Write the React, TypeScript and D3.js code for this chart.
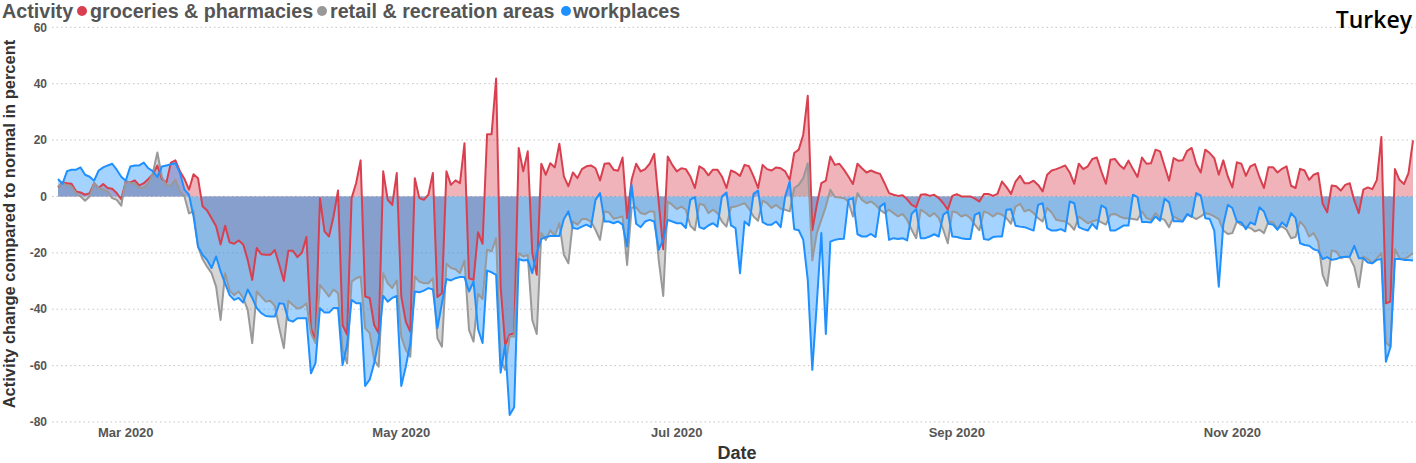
import * as d3 from "d3";

// daily values, first day 2020-02-15 (one line per month)
const startDay = "2020-02-15";

const groceries = [
  3.2, 5, 4.7, 4.5, 1.8, 1.4, 0.6, 1.2, 4.7, 3, 4.4, 3, 2.7, 1.2, -1,
  5.3, 5, 5.7, 3.9, 4.7, 6.2, 7.9, 11, 6.2, 5, 12, 12.8, 8.9, 6.2, 2.4, 7.9, 6.5, -3.5, -5, -7.7, -10.6, -17, -10.4, -16.3, -16.8, -15.6, -17, -22.5, -29.6, -18.3, -20.5,
  -20.7, -20.7, -19, -24.3, -30, -19.3, -19.3, -21.5, -20, -14.4, -46.7, -51, -0.6, -12.4, -14.2, -7.1, 2.1, -45.6, -49, -0.6, 4.7, 12.8, -35.5, -36, -45.6, -48.5, 8.9, -1.2, -3, 8.3,
  -35.5, -44.4, -48, 6.5, -0.6, -1.2, 0.6, 8.3, -35.7, -34.3, 8.9, 4.1, 5.7, 4.7, 18.9, -29, -29.6, -12.7, -16.8, 22.1, 22.1, 41.8, -32, -52.7, -49, -48.5, 17.2, 8.9, 16, -20, -27.8,
  11.6, 7.7, 11.8, 10.3, 18.7, 7.1, 3.6, 8.5, 6.5, 9.7, 10.7, 11, 10, 5.7, 11.6, 11.8, 9.5, 9.1, 13.8, -7.7, 5.9, 11.6, 8.9, 9.7, 11.6, 15.1, -2, -18.7, 14.2, 11.2,
  8.9, 10, 9.7, 7.1, 3, 10.7, 9.7, 7.5, 9.5, 9.5, 7.1, 3, 9.2, 8.5, 7.3, 11.2, 10.7, 7.1, 3, 11.2, 9.7, 9.2, 10.3, 10, 8.9, 5.9, 15.4, 16.6, 21.9, 35.7, -12,
  -3, 4.7, 5.6, 14.2, 11.2, 11.6, 9.5, 7.1, 4.4, 11.6, 10, 8.5, 9.2, 8.5, 8, 4.7, 1.2, 0.6, 0.2, 0.4, -1, -3, -3.8, 0.6, 0.8, 0.2, 0.6, -0.6, -2.4, -4.7, 0.2,
  0.8, 0, 0, 0, -0.8, -1.8, 0.9, 0.9, 0.2, 0.9, 5.3, 3.3, 0.9, 5.3, 7.3, 4.7, 4.7, 5.6, 4.1, 1.8, 7.7, 9.2, 9.7, 10.3, 11, 8.5, 4.5, 11.6, 9.7, 10.7,
  13.3, 13.8, 8.9, 4.5, 13, 13.3, 11.2, 9.8, 12.7, 9.7, 6.9, 13.8, 11.6, 11.8, 16.6, 16, 10.7, 5.6, 13.6, 12.7, 12.8, 16.2, 17.2, 11.6, 8.5, 16.6, 15.4, 13.6, 7.7, 12.8, 7.1,
  3.2, 12.1, 11.6, 7.3, 10.7, 11.5, 6.9, 3, 10.4, 10.4, 8.5, 9.8, 10.7, 3.8, 3, 9.8, 9.2, 5.9, 7.7, 8.3, -2.6, -5.6, 3.9, 3.6, 2.1, 4.1, 4.7, -1.5, -5.9, 2.4,
  3.2, 2.6, 5.9, 21.1, -37.9, -37.3, 9.7, 5.9, 4.4, 8.3, 19.9,
];

const retail = [
  3.5, 4.7, 4, 3.5, 1.2, 0, -1.5, 0, 4.7, 3, 2.4, 1.8, -0.6, -1.2, -3.3,
  5.7, 4.7, 4.7, 3, 3, 4.7, 8.3, 15.6, 7, 4, 3.9, 6, 1.8, 0, -6, -5.3, -17.8, -22.2, -24.9, -27.2, -32, -43.8, -27.2, -33.4, -35, -33.7, -36, -40.2, -52, -33.7, -35.5,
  -37.3, -37, -38.8, -46.7, -53.8, -37, -38.5, -39.8, -39.3, -37.9, -48.5, -52, -31.4, -33.4, -35.5, -33, -34.3, -54.4, -59.2, -30.2, -29, -28.4, -46.7, -48.5, -58, -60.4, -27.2, -30.8, -32.5, -29.8,
  -49.7, -54.4, -56.8, -28.4, -30.2, -30.8, -30.8, -29, -50.3, -53.3, -23.9, -25.4, -25.8, -27.2, -22.7, -47.3, -51.5, -34.6, -36.4, -18.9, -19.5, -14.8, -58, -61.5, -49.7, -49.7, -20.1, -21.3, -20.7, -43.8, -48.8,
  -13, -15.4, -12, -14, -9.5, -20.7, -23.7, -8.9, -10, -8, -8, -8.9, -11.8, -15.4, -5.3, -5.7, -7.9, -7.5, -7.1, -24.3, -4, -3.8, -5.9, -6.3, -5.3, -5.3, -22.5, -35.3, -1.8, -3,
  -4.5, -3.6, -4.7, -10.4, -12, -2.7, -3, -5.9, -4.7, -5.9, -8.9, -10.7, -3.8, -3.6, -3, -2.4, -4.4, -7.1, -8.6, -1.5, -2.4, -4.1, -3, -4.4, -4.7, -5.3, 3, 4.1, 6.5, 11.8, -22.7,
  -13, -8.3, -3.6, 2.4, -0.2, -0.4, -0.6, -1.8, -7.1, 1.2, -1.2, -2.4, -1.8, -3, -4.7, -5.9, -4.7, -5.9, -7.1, -6.2, -8.3, -11.8, -14.8, -4.7, -5.7, -7.1, -5.9, -7.7, -11.8, -16.6, -5.3,
  -5.7, -7.1, -6.5, -7.7, -10, -12, -5.3, -5.9, -7.1, -5.9, -6.5, -7.7, -9.7, -3.6, -2.6, -5.3, -4.7, -5.9, -7.7, -8.9, -4.1, -5.7, -8.3, -8.6, -8.9, -10, -11.8, -7.1, -8.3, -9.5,
  -8.9, -8.3, -9.2, -10, -6.5, -6.2, -7.1, -7.7, -7.7, -8, -8.3, -5.3, -7.7, -8.3, -5.9, -7.7, -8.3, -10.9, -7.1, -8, -8.9, -6.5, -7.1, -8, -7.1, -5.9, -6.3, -7.1, -8, -12.1, -13.3,
  -13, -8.9, -10.1, -10.7, -11.2, -12.4, -11.8, -13, -8.9, -9.2, -11.2, -10.7, -11.8, -14.8, -14.4, -8.9, -10.7, -14.2, -13, -16, -27.8, -31.7, -19.2, -19.5, -21.9, -21.3, -21.7, -24.9, -32.2, -21.3,
  -22.2, -23.7, -22, -20.1, -51.8, -53.3, -18.7, -21.9, -22.2, -21.3, -20.1,
];

const workplaces = [
  6.2, 4.5, 9, 9.5, 9.5, 10.3, 7.7, 7, 5.6, 9.2, 10.3, 11, 11.6, 9.5, 7,
  5.6, 10.6, 11, 11, 12, 10, 9, 6.9, 10.6, 11, 11.4, 11.8, 8.3, 2.4, 0.6, -7, -17.8, -20.7, -22.5, -25.4, -21.3, -26.6, -30.8, -35, -36.7, -36, -37.6, -33, -36, -39.6, -41.4,
  -42.4, -42.6, -42.6, -37.9, -38.1, -43.8, -44.4, -43.2, -43.2, -43.2, -62.7, -59.2, -39.6, -41.2, -41.2, -39.6, -39.6, -59.8, -52.7, -36.7, -37.9, -37.9, -67.2, -65, -59.2, -51, -35.3, -37.3, -36, -35.3,
  -67.2, -60.4, -52, -33.7, -34, -33.4, -32.5, -33, -46.7, -37.9, -29.3, -29.8, -29, -28.6, -28.6, -33.7, -30.2, -47.1, -52, -26.3, -26.9, -27.8, -62.5, -52.7, -77.5, -74.8, -22.2, -22.7, -22.5, -27.2, -20,
  -15.1, -14.4, -14, -14, -14, -8, -5.3, -11.2, -11.5, -10.7, -10, -10.9, -1.2, 1.2, -8.9, -8.9, -9.5, -8.9, -10, -17.8, 4.1, -9.7, -10.9, -8.9, -8.3, -8.9, -18.9, -15.4, -8.3, -8.9,
  -9.5, -9.5, -11.2, -1.2, -0.2, -10.9, -11.5, -10.3, -9.5, -10.7, 0, 1.4, -10.3, -11.2, -27.2, -8.9, -10.3, 0.9, 2.1, -9.1, -10, -10, -8.9, -10.9, 0, 5.3, -11.6, -12, -15.4, -29.6, -61.5,
  -38, -13, -48.8, -16, -15.4, -15.1, -15, -1.2, -0.6, -13.4, -14.2, -14.2, -13.3, -14.4, -3.6, -2.4, -15.4, -14.8, -15.1, -14.8, -15.6, -6.2, -4.5, -14.8, -14.8, -14.2, -13.4, -14.2, -6.5, -5.3, -14.2,
  -14.4, -14.8, -15.1, -15.1, -6.5, -5.7, -15.1, -15.4, -14.4, -14.2, -14.2, -4.7, -4.5, -10.4, -10.7, -10.9, -11.5, -12.1, -3, -2.4, -11.2, -12.1, -12.1, -11.6, -12.4, -1.8, -2.4, -10.9, -11.6, -12.1,
  -9.7, -11.5, -3.2, -4.1, -12.1, -12.1, -11.2, -10.3, -10.3, 0.6, -0.2, -9.1, -9.1, -9.2, -7.1, -8.6, -0.8, -2.1, -8.8, -8.8, -8.9, -6.2, -7.3, 1.2, 0.4, -7.7, -8, -12.1, -32, -10, -3,
  -4.1, -8.9, -9.2, -11.6, -9.2, -10, -3.8, -5.3, -9.7, -10, -11.8, -9.2, -10.7, -5.9, -7.7, -16.6, -17.2, -17.5, -18.7, -19.2, -22.2, -21.5, -22.5, -22.2, -21.5, -21.5, -21.3, -17.5, -21.9, -21.9,
  -23.4, -23.7, -22.5, -22.2, -58.6, -53.5, -22.2, -22.2, -22.5, -22.5, -22.7,
];

const seriesNames = ["groceries & pharmacies", "retail & recreation areas", "workplaces"];
const seriesColors = ["#d9404f", "#999999", "#1e90ff"];
const yTicks = [60, 40, 20, 0, -20, -40, -60, -80];
const xTickMonths = ["2020-03-01", "2020-05-01", "2020-07-01", "2020-09-01", "2020-11-01"];

const font = "'Liberation Sans', Arial, sans-serif";

export default function App() {
  const width = 1416;
  const height = 463;

  const parse = d3.utcParse("%Y-%m-%d");
  const start = parse(startDay) as Date;
  const dates = groceries.map((_, i) => d3.utcDay.offset(start, i));

  const x = d3.scaleUtc().domain([dates[0], dates[dates.length - 1]]).range([58, 1413]);
  const y = d3.scaleLinear().domain([-80, 60]).range([422, 27.3]);

  const series = [groceries, retail, workplaces];

  const area = d3
    .area<number>()
    .x((_, i) => x(dates[i]))
    .y0(y(0))
    .y1((d) => y(d));
  const line = d3
    .line<number>()
    .x((_, i) => x(dates[i]))
    .y((d) => y(d));

  const fmt = d3.utcFormat("%b %Y");

  // legend positions (dot centre, text start)
  const legend = [
    { dot: 82, text: 90 },
    { dot: 322, text: 330 },
    { dot: 566, text: 573 },
  ];
  const legendSize = 19.7;
  const legendBase = 18;

  return (
    <div style={{ position: "absolute", left: 0, top: 0 }}>
      <svg width={width} height={height} style={{ display: "block", background: "#fff" }}>
        {/* grid */}
        {yTicks.map((t) => (
          <g key={t}>
            <line x1={52} x2={width} y1={y(t)} y2={y(t)} stroke="#c4c4c4" strokeWidth={1} strokeDasharray="1.5 3" />
            <text x={47} y={y(t)} dy="0.35em" textAnchor="end" fontFamily={font} fontWeight="bold" fontSize={12} fill="#555">
              {t}
            </text>
          </g>
        ))}

        {/* areas */}
        {series.map((s, i) => (
          <path key={"a" + i} d={area(s) ?? ""} fill={seriesColors[i]} fillOpacity={0.4} stroke="none" />
        ))}
        {/* lines */}
        {series.map((s, i) => (
          <path key={"l" + i} d={line(s) ?? ""} fill="none" stroke={seriesColors[i]} strokeWidth={2} strokeLinejoin="round" />
        ))}

        {/* x ticks */}
        {xTickMonths.map((m) => {
          const d = parse(m) as Date;
          return (
            <text key={m} x={x(d)} y={437} textAnchor="middle" fontFamily={font} fontWeight="bold" fontSize={13} fill="#555">
              {fmt(d)}
            </text>
          );
        })}

        {/* axis titles */}
        <text x={737} y={459} textAnchor="middle" fontFamily={font} fontWeight="bold" fontSize={18} fill="#333">
          Date
        </text>
        <text
          transform={`translate(15, 224) rotate(-90)`}
          textAnchor="middle"
          fontFamily={font}
          fontWeight="bold"
          fontSize={16.5}
          fill="#333"
        >
          Activity change compared to normal in percent
        </text>

        {/* legend */}
        <text x={2} y={legendBase} fontFamily={font} fontWeight="bold" fontSize={legendSize} fill="#555">
          Activity
        </text>
        {seriesNames.map((n, i) => (
          <g key={n}>
            <circle cx={legend[i].dot} cy={legendBase - 7} r={5} fill={seriesColors[i]} />
            <text x={legend[i].text} y={legendBase} fontFamily={font} fontWeight="bold" fontSize={legendSize} fill="#555">
              {n}
            </text>
          </g>
        ))}

        {/* title */}
        <text x={1412} y={28} textAnchor="end" fontFamily="'Open Sans', sans-serif" fontWeight={600} fontSize={23} fill="#000">
          Turkey
        </text>
      </svg>
    </div>
  );
}
